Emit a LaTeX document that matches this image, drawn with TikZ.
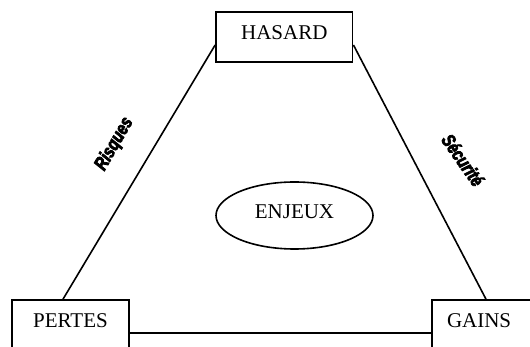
\documentclass[tikz,border=0pt]{standalone}
\usepackage{fontspec}
\setmainfont{Liberation Serif}
\newfontfamily\labelfont[BoldItalicFeatures={FakeBold=4, FakeStretch=0.78}]{Liberation Sans}
\usetikzlibrary{positioning, calc, shapes.geometric}

\begin{document}
\begin{tikzpicture}[
        x=1pt, y=1pt,
        every node/.style={font=\fontsize{21}{24}\selectfont},
        box/.style={draw, line width=1.6pt, inner sep=0pt, minimum height=50pt, text height=13.5pt, text depth=9pt},
        side/.style={font=\labelfont\fontsize{19}{22}\selectfont\bfseries\itshape, inner sep=0pt},
        edge/.style={line width=1.6pt}
    ]
        \useasboundingbox (0,0) rectangle (530,347);

        % Nodes
        \node[box, minimum width=136.7pt] (hasard) at (284.3,310) {HASARD};
        \node[box, minimum width=117pt] (pertes) at (70.5,22) {PERTES};
        \node[box, inner xsep=15pt, text width=78pt, align=left] (gains) at (486,22) {GAINS};
        \node[draw, ellipse, line width=1.6pt, inner sep=0pt, minimum width=157pt, minimum height=67pt, text height=13.5pt, text depth=7pt] (enjeux) at (294.5,131.5) {ENJEUX};

        % Labels
        \node[side, rotate=60] (risques) at (114.5,203) {Risques};
        \node[side, rotate=-55] (securite) at (463,187) {Sécurité};

        % Lines
        \draw[edge] ($(pertes.north)+(-7.5,0)$) -- ($(hasard.west)+(0,-8)$);
        \draw[edge] ($(hasard.east)+(0,-8)$) -- (gains.north);
        \draw[edge] ($(pertes.east)+(0,-8)$) -- ($(gains.west)+(0,-8)$);
    \end{tikzpicture}
\end{document}
